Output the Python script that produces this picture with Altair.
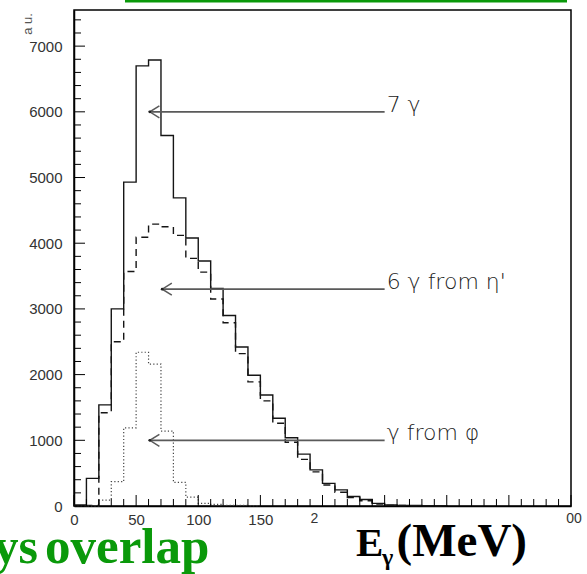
import altair as alt
import pandas as pd

# ---------------- data ----------------
BIN = 10  # MeV bin width
solid_vals = [15, 420, 1540, 3000, 4930, 6700, 6790, 5640, 4690, 4080,
              3730, 3310, 2900, 2420, 1990, 1690, 1335, 1040, 790, 550,
              345, 245, 145, 100, 40, 15, 10, 8, 6, 5]
dashed_vals = [0, 10, 1420, 2500, 3570, 4090, 4290, 4250, 4120, 3770,
               3560, 3150, 2790, 2320, 1890, 1600, 1260, 970, 710, 520,
               320, 210, 130, 80, 30, 10, 8, 6, 5, 4]
dotted_vals = [0, 0, 90, 370, 1190, 2340, 2160, 1140, 360, 135,
               40, 25, 10, 8, 4]

arrow_labels = ["7 γ", "6 γ from η'", "γ from φ"]
arrow_tip_x = [61, 71, 61]
arrow_y = [6000, 3300, 1000]
arrow_tail_x = [250, 250, 250]

x_label_values = [0, 50, 100, 150]
# partially hidden tick labels in the reference (only fragments visible)
x_partial_values = [200, 400]
x_partial_texts = ["2", "00"]
y_label_values = [0, 1000, 2000, 3000, 4000, 5000, 6000, 7000]
x_major_ticks = [0, 50, 100, 150, 200, 250, 300, 350, 400]
x_minor_ticks = [v for v in range(0, 401, 10) if v % 50 != 0]
y_major_ticks = [0, 1000, 2000, 3000, 4000, 5000, 6000, 7000]
y_minor_ticks = [v for v in range(0, 7500, 200) if v % 1000 != 0]

X_MAX = 400
Y_MAX = 7550
W, H = 497, 496

# ---------------- tables ----------------
def steps(vals):
    xs = [i * BIN for i in range(len(vals))] + [len(vals) * BIN]
    ys = list(vals) + [0]
    return pd.DataFrame({"x": xs, "y": ys})

solid_df = steps(solid_vals)
dashed_df = steps(dashed_vals)
dotted_df = steps(dotted_vals)
arrows_df = pd.DataFrame({"label": arrow_labels, "tip": arrow_tip_x,
                          "y": arrow_y, "tail": arrow_tail_x})

xscale = alt.Scale(domain=[0, X_MAX], nice=False, zero=False)
yscale = alt.Scale(domain=[0, Y_MAX], nice=False, zero=False)

xaxis = alt.Axis(
    title=None, values=x_label_values, ticks=False, grid=False,
    labelFlush=False, labelOverlap=False, labelPadding=6,
)
yaxis = alt.Axis(
    title=None, values=y_label_values, ticks=False, grid=False,
    labelPadding=12, labelOverlap=False, labelFlush=False, format="d",
)

def X(field):
    return alt.X(field, type="quantitative", scale=xscale, axis=xaxis)

def Y(field):
    return alt.Y(field, type="quantitative", scale=yscale, axis=yaxis)

LINE = "#151515"
solid = alt.Chart(solid_df).mark_line(
    interpolate="step-after", color=LINE, strokeWidth=1.4
).encode(x=X("x"), y=Y("y"))
dashed = alt.Chart(dashed_df).mark_line(
    interpolate="step-after", color=LINE, strokeWidth=1.4, strokeDash=[7, 5]
).encode(x=X("x"), y=Y("y"))
dotted = alt.Chart(dotted_df).mark_line(
    interpolate="step-after", color="#444", strokeWidth=1.2, strokeDash=[1.2, 2.2]
).encode(x=X("x"), y=Y("y"))

# ticks pointing inward
def tick_layer(vals, axis_name, length):
    df = pd.DataFrame({"v": vals})
    base = alt.Chart(df).mark_rule(color="black", strokeWidth=1)
    if axis_name == "x":
        return base.encode(x=X("v"), y=alt.value(H), y2=alt.value(H - length))
    return base.encode(y=Y("v"), x=alt.value(0), x2=alt.value(length))

ticks = [
    tick_layer(x_major_ticks, "x", 11),
    tick_layer(x_minor_ticks, "x", 7),
    tick_layer(y_major_ticks, "y", 11),
    tick_layer(y_minor_ticks, "y", 7),
]

def partial_label(i, dx):
    df = pd.DataFrame({"v": [x_partial_values[i]], "t": [x_partial_texts[i]]})
    return alt.Chart(df).mark_text(
        font="Liberation Sans", fontSize=14, color="#333",
        align="center", baseline="top", dx=dx
    ).encode(x=X("v"), y=alt.value(H + 6), text="t")

partial_labels = [partial_label(0, -8), partial_label(1, 3)]

ARROW = "#5a5a5a"
shafts = alt.Chart(arrows_df).mark_rule(color=ARROW, strokeWidth=1.8).encode(
    x=X("tip"), x2="tail", y=Y("y"))
heads = alt.Chart(arrows_df).mark_point(
    shape="M1.6,-1L0,0L1.6,1", filled=False, size=144, color=ARROW,
    strokeWidth=1.5, opacity=1
).encode(x=X("tip"), y=Y("y"))
dots = alt.Chart(arrows_df).mark_point(
    filled=True, size=8, color="#222", opacity=1
).encode(x=X("tip"), y=Y("y"))
labels = alt.Chart(arrows_df).mark_text(
    align="left", baseline="alphabetic", dx=2, font="DejaVu Sans",
    fontSize=22, fontWeight=200, color="#222"
).encode(x=X("tail"), y=Y("y"), text="label")

# decorations outside the plot area (slide elements)
deco_df = pd.DataFrame({"k": [0]})
GREEN = "#0a990a"
green_line = alt.Chart(deco_df).mark_rule(color=GREEN, strokeWidth=3).encode(
    x=alt.value(51), x2=alt.value(493), y=alt.value(-9))
au = alt.Chart(deco_df).mark_text(
    text="a u.", angle=270, fontSize=13, font="Liberation Sans", color="#555",
    align="center", baseline="middle"
).encode(x=alt.value(-46), y=alt.value(14))
ys_txt = alt.Chart(deco_df).mark_text(
    text="ys", font="Liberation Serif", fontWeight="bold", fontSize=50,
    color=GREEN, align="right", baseline="alphabetic"
).encode(x=alt.value(-36), y=alt.value(553))
overlap_txt = alt.Chart(deco_df).mark_text(
    text="overlap", font="Liberation Serif", fontWeight="bold", fontSize=51,
    color=GREEN, align="left", baseline="alphabetic"
).encode(x=alt.value(-29), y=alt.value(553))
e_txt = alt.Chart(deco_df).mark_text(
    text="E", font="Liberation Serif", fontWeight="bold", fontSize=41,
    color="black", align="left", baseline="alphabetic"
).encode(x=alt.value(282), y=alt.value(546))
gamma_txt = alt.Chart(deco_df).mark_text(
    text="γ", font="Liberation Serif", fontWeight="bold", fontSize=24,
    color="black", align="left", baseline="alphabetic"
).encode(x=alt.value(308), y=alt.value(555))
mev_txt = alt.Chart(deco_df).mark_text(
    text="(MeV)", font="Liberation Serif", fontWeight="bold", fontSize=47,
    color="black", align="right", baseline="alphabetic"
).encode(x=alt.value(453), y=alt.value(546))

chart = alt.layer(
    solid, dashed, dotted, *ticks, *partial_labels, shafts, heads, dots, labels,
    green_line, au, ys_txt, overlap_txt, e_txt, gamma_txt, mev_txt
).properties(
    width=W, height=H,
    autosize=alt.AutoSizeParams(type="none"),
    padding={"left": 74, "top": 10, "right": 16, "bottom": 68},
    background="white",
).configure_view(
    stroke="black", strokeWidth=1.5
).configure_axis(
    domainColor="black", domainWidth=1.5,
    labelFont="Liberation Sans", labelFontSize=15, labelColor="#333",
)

chart.save("out.html", embed_options={"renderer": "svg", "actions": False})
